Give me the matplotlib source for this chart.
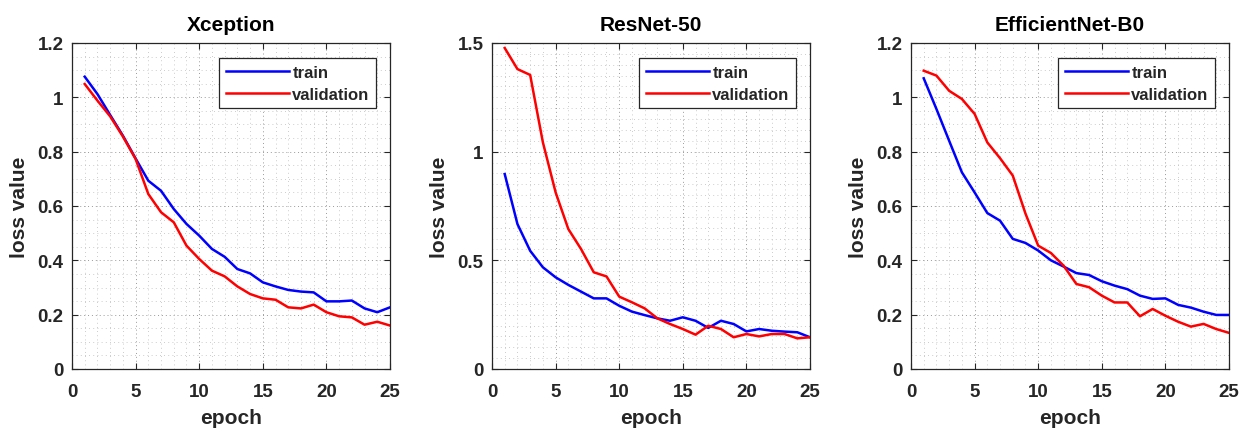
import matplotlib
matplotlib.use("Agg")
import matplotlib.pyplot as plt
from matplotlib.ticker import MultipleLocator, FuncFormatter
import numpy as np

plt.rcParams['font.family'] = ['Liberation Sans', 'DejaVu Sans']
plt.rcParams['font.weight'] = 'bold'

epochs = list(range(1, 26))

titles = ["Xception", "ResNet-50", "EfficientNet-B0"]

xception_train = [1.076, 1.012, 0.935, 0.859, 0.775, 0.693, 0.656, 0.589, 0.534, 0.491,
                  0.442, 0.413, 0.368, 0.352, 0.319, 0.304, 0.291, 0.285, 0.282, 0.249,
                  0.249, 0.252, 0.223, 0.209, 0.227]
xception_val = [1.049, 0.988, 0.930, 0.856, 0.773, 0.644, 0.577, 0.540, 0.454, 0.405,
                0.362, 0.341, 0.304, 0.276, 0.260, 0.255, 0.227, 0.223, 0.237, 0.209,
                0.194, 0.190, 0.163, 0.174, 0.160]

resnet_train = [0.897, 0.667, 0.544, 0.468, 0.422, 0.387, 0.356, 0.325, 0.325, 0.291,
                0.264, 0.248, 0.233, 0.222, 0.238, 0.222, 0.189, 0.222, 0.207, 0.173,
                0.184, 0.176, 0.172, 0.169, 0.146]
resnet_val = [1.477, 1.380, 1.353, 1.043, 0.813, 0.644, 0.552, 0.445, 0.426, 0.333,
              0.307, 0.279, 0.233, 0.207, 0.184, 0.158, 0.199, 0.184, 0.146, 0.161,
              0.150, 0.161, 0.161, 0.141, 0.146]

effnet_train = [1.070, 0.957, 0.840, 0.724, 0.650, 0.574, 0.546, 0.479, 0.464, 0.436,
                0.400, 0.377, 0.353, 0.346, 0.323, 0.307, 0.294, 0.270, 0.258, 0.260,
                0.236, 0.226, 0.211, 0.199, 0.199]
effnet_val = [1.098, 1.080, 1.024, 0.994, 0.939, 0.834, 0.776, 0.712, 0.572, 0.454,
              0.427, 0.380, 0.313, 0.301, 0.270, 0.245, 0.245, 0.194, 0.221, 0.196,
              0.174, 0.156, 0.166, 0.147, 0.133]

train_series = [xception_train, resnet_train, effnet_train]
val_series = [xception_val, resnet_val, effnet_val]
y_max = [1.2, 1.5, 1.2]
y_major = [0.2, 0.5, 0.2]

fig = plt.figure(figsize=(12.41, 4.31), dpi=100)
lefts = [72 / 1241, 492 / 1241, 911 / 1241]
W, H = 1241, 431
bottom = 1 - 370 / H
height = 326 / H
width = 318 / W

text_color = '#262626'
fmt = FuncFormatter(lambda v, p: '%g' % round(v, 4))

for i in range(3):
    ax = fig.add_axes([lefts[i], bottom, width, height])
    ax.plot(epochs, train_series[i], color=(0, 0, 1), lw=1.8, label='train')
    ax.plot(epochs, val_series[i], color=(1, 0, 0), lw=1.8, label='validation')
    ax.set_xlim(0, 25)
    ax.set_ylim(0, y_max[i])
    ax.xaxis.set_major_locator(MultipleLocator(5))
    ax.xaxis.set_minor_locator(MultipleLocator(1))
    ax.yaxis.set_major_locator(MultipleLocator(y_major[i]))
    ax.yaxis.set_minor_locator(MultipleLocator(0.05))
    ax.xaxis.set_major_formatter(fmt)
    ax.yaxis.set_major_formatter(fmt)
    ax.grid(which='major', linestyle=(0, (1, 3)), color='#999999', lw=0.7)
    ax.grid(which='minor', linestyle=(0, (1, 4)), color='#bbbbbb', lw=0.6)
    ax.set_axisbelow(True)
    ax.tick_params(which='major', direction='in', length=4, width=0.8,
                   top=True, right=True, labelsize=13.5, colors=text_color)
    ax.tick_params(axis='x', which='major', pad=10)
    ax.tick_params(axis='y', which='major', pad=6)
    ax.tick_params(which='minor', direction='in', length=0, top=True, right=True)
    for lab in ax.get_xticklabels() + ax.get_yticklabels():
        lab.set_fontweight('bold')
    for s in ax.spines.values():
        s.set_color('#262626')
        s.set_linewidth(0.9)
    ax.set_title(titles[i], fontsize=15, fontweight='bold', color='black', pad=9)
    ax.set_xlabel('epoch', fontsize=15, fontweight='bold', color=text_color, labelpad=6)
    ax.set_ylabel('loss value', fontsize=15, fontweight='bold', color=text_color, labelpad=6)
    leg = ax.legend(loc='upper right', bbox_to_anchor=(0.957, 0.953), fontsize=12,
                    handlelength=3.8, handletextpad=0.2, borderpad=0.4,
                    labelspacing=0.4, fancybox=False, framealpha=1,
                    edgecolor='#262626', borderaxespad=0)
    leg.get_frame().set_linewidth(0.9)
    for t in leg.get_texts():
        t.set_fontweight('bold')
        t.set_color(text_color)

fig.savefig('out.png', dpi=100)
